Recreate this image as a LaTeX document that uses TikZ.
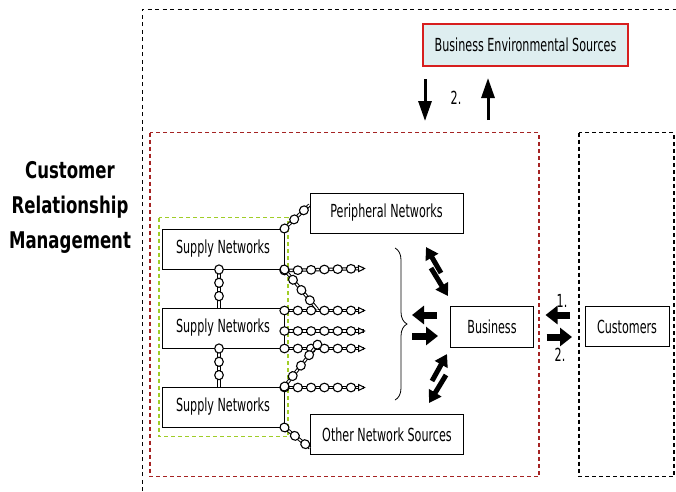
\documentclass[tikz,border=0pt]{standalone}
\usepackage{fontspec}
\setmainfont{DejaVu Sans}[FakeStretch=0.62]
\newfontfamily\headfont{DejaVu Sans}[FakeStretch=0.72]
\usetikzlibrary{positioning,arrows.meta,decorations.markings,decorations.pathreplacing}

\definecolor{crmred}{RGB}{165,35,35}
\definecolor{besred}{RGB}{215,30,30}
\definecolor{besfill}{RGB}{222,238,240}
\definecolor{supgreen}{RGB}{160,205,40}

\begin{document}
\begin{tikzpicture}[x=1pt,y=-1pt,font=\fontsize{18}{20}\selectfont]
    \tikzstyle{box}=[rectangle,
                     draw,
                     line width=1pt,
                     inner sep=0pt,
                     minimum height=40pt,
                     text=black]
    \tikzset{node distance=38pt}
    \tikzset{chainlink/.style={double=white, double distance=1.4pt, line width=1pt,
               postaction={decorate, decoration={markings,
                 mark=between positions 0 and 1 step 13.3pt with
                   {\draw[fill=white, line width=1.1pt] (0,0) ellipse (4.6pt and 4.3pt);}}}}}
    \tikzset{chaintip/.style={chainlink,
               postaction={decorate, decoration={markings,
                 mark=at position 1 with
                   {\draw[fill=white, line width=1pt] (-5pt,-3pt) -- (1pt,0pt) -- (-5pt,3pt) -- cycle;}}}}}
    \tikzset{thinarrow/.style={line width=3pt, -{Triangle[length=20pt,width=13pt]}}}
    \tikzset{fatarrow/.style={line width=7pt, -{Triangle[length=12pt,width=18pt]}}}
    \tikzset{diagarrow/.style={line width=5pt, -{Triangle[length=12pt,width=14pt]}}}

    \useasboundingbox (0,0) rectangle (676,491);

    % frames
    \draw[line width=1pt, dash pattern=on 4pt off 3.5pt] (142,491) -- (142,9) -- (676,9);
    \draw[crmred, line width=1.2pt, dash pattern=on 4pt off 3pt] (150,132.5) rectangle (539,476.5);
    \draw[line width=1.2pt, dash pattern=on 4pt off 3pt] (579,132.5) rectangle (674,476.5);

    \node[font=\headfont\bfseries\fontsize{23}{35}\selectfont, align=center] (crm) at (70,207) {Customer\\Relationship\\Management};

    \node[box, minimum width=122pt] (s1) at (223,249) {Supply Networks};
    \node[box, minimum width=122pt] (s2) [below = of s1] {Supply Networks};
    \node[box, minimum width=122pt] (s3) [below = of s2] {Supply Networks};
    \node[box, minimum width=153pt] (per) at (386.5,213) {Peripheral Networks};
    \node[box, minimum width=153pt] (oth) at (387,434.5) {Other Network Sources};
    \node[box, minimum width=83pt, minimum height=41pt] (bus) at (492,326.5) {Business};
    \node[box, minimum width=84pt] (cus) [right = 50.5pt of bus] {Customers};
    \node[box, draw=besred, fill=besfill, line width=1.5pt, minimum width=205pt,
          minimum height=42pt] (bes) at (525.5,45) {Business Environmental Sources};

    \draw[supgreen, line width=1.2pt, dash pattern=on 4pt off 3pt]
        ([xshift=-2.5pt,yshift=11pt]s1.north west) rectangle ([xshift=3.5pt,yshift=-9pt]s3.south east);

    % chain ends
    \path (s1.south east) ++(79,-1) coordinate (h1);
    \path (s2.north east) ++(79,3) coordinate (h2);
    \path (s2.east) ++(79,3) coordinate (h3);
    \path (s2.south east) ++(79,0) coordinate (h4);
    \path (s3.north east) ++(79,1) coordinate (h5);
    \path (s1.south east) ++(33,40) coordinate (d1);
    \path (s3.north east) ++(33,-42) coordinate (d2);

    \path ([xshift=-4pt]s1.south) edge [chainlink] ([xshift=-4pt]s2.north)
          ([xshift=-4pt]s2.south) edge [chainlink] ([xshift=-4pt]s3.north)
          ([yshift=-1pt]s1.south east) edge [chaintip] (h1)
          ([yshift=-3pt]s2.north east) edge [chaintip] (h2)
          ([yshift=-3pt]s2.east) edge [chaintip] (h3)
          (s2.south east) edge [chaintip] (h4)
          ([yshift=-1pt]s3.north east) edge [chaintip] (h5)
          (s1.south east) edge [chainlink] (d1)
          (s3.north east) edge [chainlink] (d2)
          (s1.north east) edge [chainlink] ([yshift=8pt]per.west)
          (s3.south east) edge [chainlink] ([yshift=7pt]oth.south west);

    % flows
    \coordinate (a1) at (425,79);
    \coordinate (a2) at (425,121);
    \coordinate (a3) at (488,120);
    \coordinate (a4) at (488,78);
    \coordinate (l1) at (437,315);
    \coordinate (l2) at (412,315);
    \coordinate (r1) at (412,336);
    \coordinate (r2) at (438,336);
    \coordinate (c1) at (570,315);
    \coordinate (c2) at (545.5,315);
    \coordinate (c3) at (546.5,337);
    \coordinate (c4) at (572,337);
    \coordinate (u1) at (441,273);
    \coordinate (u2) at (426,247);
    \coordinate (u3) at (431,268);
    \coordinate (u4) at (448,296);
    \coordinate (w1) at (432,381);
    \coordinate (w2) at (447,354);
    \coordinate (w3) at (446,375);
    \coordinate (w4) at (429,403);
    \coordinate (b1) at (395,248);
    \coordinate (b2) at (395,400);

    \path (a1) edge [thinarrow] (a2)
          (a3) edge [thinarrow] (a4)
          (l1) edge [fatarrow] (l2)
          (r1) edge [fatarrow] (r2)
          (c1) edge [fatarrow] (c2)
          (c3) edge [fatarrow] (c4)
          (u1) edge [diagarrow] (u2)
          (u3) edge [diagarrow] (u4)
          (w1) edge [diagarrow] (w2)
          (w3) edge [diagarrow] (w4);

    \draw[line width=0.8pt, decorate, decoration={brace, amplitude=12pt}] (b1) -- (b2);

    \node (n2) at (456,98) {2.};
    \node (n3) at (562,301) {1.};
    \node (n4) at (560,355) {2.};
\end{tikzpicture}
\end{document}
